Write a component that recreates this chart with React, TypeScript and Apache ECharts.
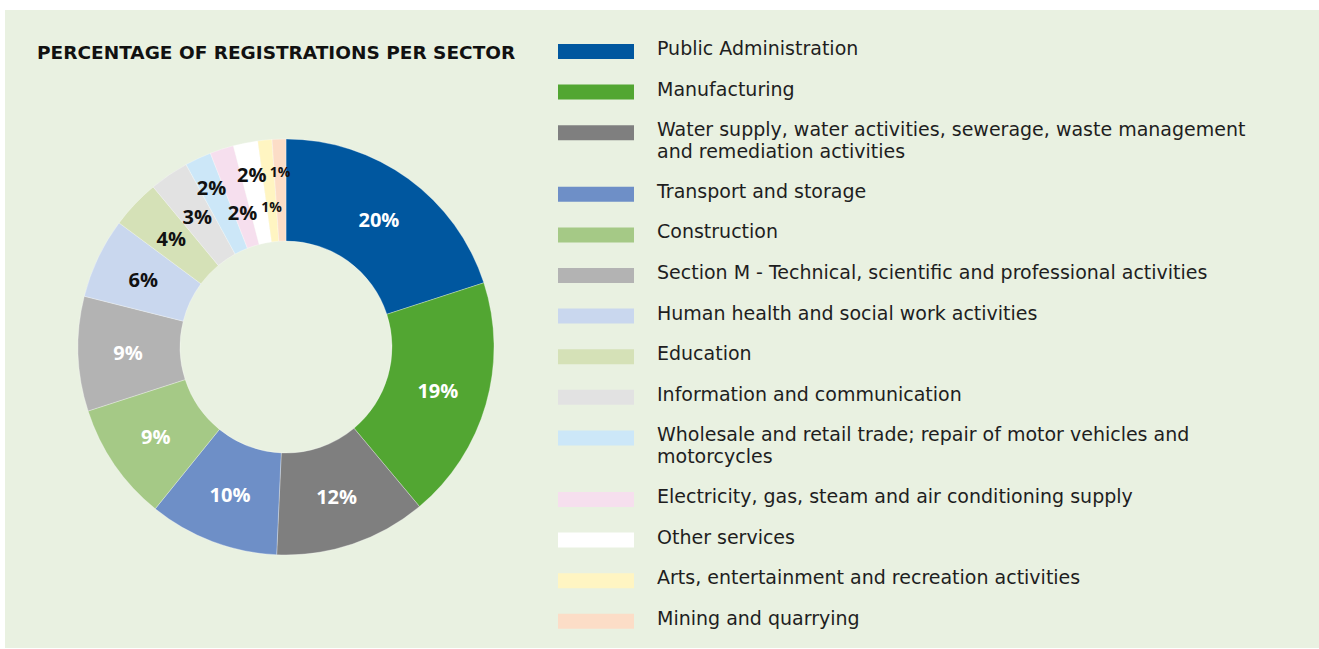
import React, { useEffect, useRef } from 'react';
import * as echarts from 'echarts';

const TITLE = 'PERCENTAGE OF REGISTRATIONS PER SECTOR';

const CATEGORIES = [
  'Public Administration',
  'Manufacturing',
  'Water supply, water activities, sewerage, waste management\nand remediation activities',
  'Transport and storage',
  'Construction',
  'Section M - Technical, scientific and professional activities',
  'Human health and social work activities',
  'Education',
  'Information and communication',
  'Wholesale and retail trade; repair of motor vehicles and\nmotorcycles',
  'Electricity, gas, steam and air conditioning supply',
  'Other services',
  'Arts, entertainment and recreation activities',
  'Mining and quarrying',
];

// share of registrations, %
const VALUES = [20.0, 18.9, 11.8, 10.1, 9.2, 8.9, 6.25, 3.8, 3.05, 2.05, 1.85, 1.9, 1.1, 1.07];

const COLORS = [
  '#00579F', '#52A632', '#7F7F7F', '#6E8FC7', '#A5C986', '#B3B3B3', '#C9D7EE',
  '#D5E1B7', '#E2E2E2', '#CCE7F8', '#F6DFEE', '#FFFFFF', '#FFF5C2', '#FCDDC7',
];
const LABEL_COLORS = [
  '#FFFFFF', '#FFFFFF', '#FFFFFF', '#FFFFFF', '#FFFFFF', '#FFFFFF', '#111111',
  '#111111', '#111111', '#111111', '#111111', '#111111', '#111111', '#111111',
];

const BG = '#E9F1E1';
const FONT = '"DejaVu Sans", "Open Sans", sans-serif';
const LABEL_FONT = '"Open Sans", Lato, sans-serif';
const CX = 286;
const CY = 347;
const R_IN = 106;
const R_OUT = 208;

export default function App() {
  const ref = useRef<HTMLDivElement>(null);

  useEffect(() => {
    if (!ref.current) return;
    const chart = echarts.init(ref.current, undefined, { renderer: 'svg' });

    const total = VALUES.reduce((a, b) => a + b, 0);
    const cum: number[] = [];
    let acc = 0;
    VALUES.forEach((v) => {
      cum.push(acc);
      acc += v;
    });

    const legendEls: any[] = [];
    let extraLines = 0;
    CATEGORIES.forEach((name, i) => {
      const top = 44 + i * 40.6 + extraLines * 21;
      legendEls.push({
        type: 'rect',
        silent: true,
        shape: { x: 558, y: top, width: 76, height: 15 },
        style: { fill: COLORS[i] },
      });
      legendEls.push({
        type: 'text',
        silent: true,
        x: 657,
        y: top - 7,
        style: {
          text: name,
          fill: '#1E1E1E',
          fontFamily: FONT,
          fontSize: 19,
          lineHeight: 22,
          align: 'left',
          verticalAlign: 'top',
        },
      });
      extraLines += name.split('\n').length - 1;
    });

    chart.setOption({
      animation: false,
      backgroundColor: '#FFFFFF',
      graphic: [
        {
          type: 'rect',
          silent: true,
          z: -10,
          shape: { x: 5, y: 10, width: 1314, height: 638 },
          style: { fill: BG },
        },
        {
          type: 'text',
          silent: true,
          x: 37,
          y: 52,
          style: {
            text: TITLE,
            fill: '#111111',
            fontFamily: FONT,
            fontSize: 18.5,
            fontWeight: 'bold',
            align: 'left',
            verticalAlign: 'middle',
          },
        },
        ...legendEls,
      ],
      series: [
        {
          type: 'pie',
          center: [CX, CY],
          radius: [R_IN, R_OUT],
          startAngle: 90,
          clockwise: true,
          avoidLabelOverlap: false,
          silent: true,
          itemStyle: { borderColor: 'rgba(255,255,255,0.5)', borderWidth: 0.6 },
          label: {
            show: true,
            position: 'inside',
            fontFamily: LABEL_FONT,
            fontWeight: 'bold',
            fontSize: 20,
            formatter: (p: any) => Math.round(p.value) + '%',
          },
          labelLine: { show: false },
          labelLayout: (params: any) => {
            const i = params.dataIndex;
            const mid = ((cum[i] + VALUES[i] / 2) / total) * Math.PI * 2;
            const r = VALUES[i] < 2.5 ? (i % 2 === 1 ? 176 : 141) : 158;
            return {
              x: CX + r * Math.sin(mid),
              y: CY - r * Math.cos(mid),
              align: 'center',
              verticalAlign: 'middle',
            };
          },
          data: CATEGORIES.map((name, i) => ({
            name,
            value: VALUES[i],
            itemStyle: { color: COLORS[i] },
            label: {
              color: LABEL_COLORS[i],
              fontSize: VALUES[i] < 1.5 ? 14 : 20,
            },
          })),
        },
      ],
    });

    return () => chart.dispose();
  }, []);

  return (
    <div
      ref={ref}
      style={{ position: 'absolute', left: 0, top: 0, width: 1319, height: 649 }}
    />
  );
}
